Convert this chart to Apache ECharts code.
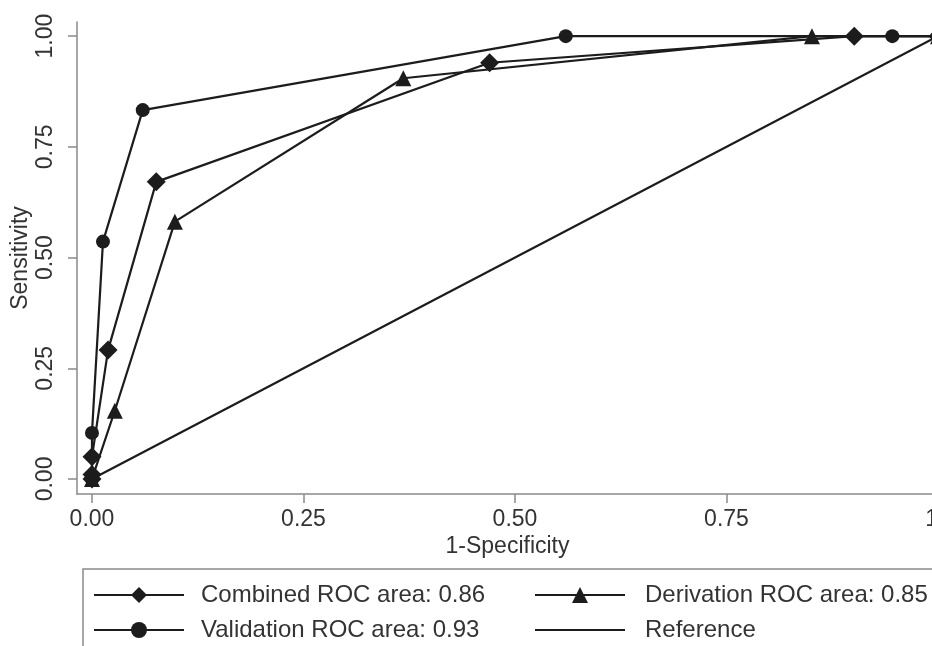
<!DOCTYPE html>
<html>
<head>
<meta charset="utf-8">
<script src="https://cdn.jsdelivr.net/npm/echarts@6/dist/echarts.min.js"></script>
<style>
  body { margin: 0; background: #fff; }
  #roc { width: 932px; height: 646px; }
</style>
</head>
<body>
<div id="roc"></div>
<script>
// points, [1-specificity, sensitivity]
var combined = [[0, 0], [0, 0.01], [0, 0.05], [0.019, 0.291], [0.076, 0.671], [0.47, 0.94], [0.901, 1], [1, 1]];
var derivation = [[0, 0], [0.027, 0.154], [0.098, 0.581], [0.368, 0.905], [0.851, 1], [1, 1]];
var validation = [[0, 0], [0, 0.104], [0.013, 0.536], [0.06, 0.833], [0.56, 1], [0.946, 1], [1, 1]];
var reference = [[0, 0], [1, 1]];

var tickValues = [0, 0.25, 0.5, 0.75, 1];
var seriesNames = ["Combined ROC area: 0.86", "Derivation ROC area: 0.85", "Validation ROC area: 0.93", "Reference"];

var lineColor = "#1c1c1c";
var axisColor = "#8a8a8a";
var textColor = "#333";
var font = "Liberation Sans, Arial, sans-serif";

var mkSeries = function (name, data, symbol, size) {
  return {
    name: name,
    type: "line",
    data: data,
    symbol: symbol,
    symbolSize: size,
    showSymbol: symbol !== "none",
    animation: false,
    lineStyle: { color: lineColor, width: 2.2 },
    itemStyle: { color: lineColor, borderWidth: 0 },
    z: 3
  };
};

var legendText = function (pad) {
  return { fontSize: 24, lineHeight: 24, color: textColor, fontFamily: font, padding: [0, 0, 0, pad] };
};

var option = {
  backgroundColor: "#fff",
  textStyle: { fontFamily: font },
  grid: { left: 77, right: -6, top: 22, bottom: 152, outerBoundsMode: "none", containLabel: false },
  xAxis: {
    type: "value",
    min: -0.0177,
    max: 1,
    name: "1-Specificity",
    nameLocation: "middle",
    nameGap: 41,
    nameMoveOverlap: false,
    nameTextStyle: { fontSize: 23, color: textColor, fontFamily: font },
    axisLine: { onZero: false, lineStyle: { color: axisColor, width: 1.5 } },
    axisTick: { customValues: tickValues, length: 9, lineStyle: { color: axisColor, width: 1.5 } },
    axisLabel: {
      customValues: tickValues,
      formatter: function (v) { return v === 1 ? "1" : v.toFixed(2); },
      alignMaxLabel: "right",
      fontSize: 23, color: textColor, margin: 14, fontFamily: font
    },
    splitLine: { show: false }
  },
  yAxis: {
    type: "value",
    min: -0.034,
    max: 1.032,
    name: "Sensitivity",
    nameLocation: "middle",
    nameGap: 45,
    nameMoveOverlap: false,
    nameTextStyle: { fontSize: 23, color: textColor, fontFamily: font },
    axisLine: { show: true, onZero: false, lineStyle: { color: axisColor, width: 1.5 } },
    axisTick: { show: true, customValues: tickValues, length: 9, lineStyle: { color: axisColor, width: 1.5 } },
    axisLabel: {
      customValues: tickValues,
      formatter: function (v) { return v.toFixed(2); },
      rotate: 90, fontSize: 23, color: textColor, margin: 20, fontFamily: font
    },
    splitLine: { show: false }
  },
  legend: [
    {
      data: [seriesNames[0], seriesNames[2]],
      orient: "vertical",
      left: 93,
      top: 583,
      padding: 0,
      itemWidth: 90,
      itemHeight: 20,
      itemGap: 11,
      textStyle: legendText(12)
    },
    {
      data: [seriesNames[1], { name: seriesNames[3], itemStyle: { opacity: 0 } }],
      orient: "vertical",
      left: 534,
      top: 583,
      padding: 0,
      itemWidth: 90,
      itemHeight: 20,
      itemGap: 11,
      textStyle: legendText(15)
    }
  ],
  graphic: [
    {
      type: "rect",
      shape: { x: 83, y: 569, width: 900, height: 120 },
      style: { fill: "none", stroke: axisColor, lineWidth: 1.5 },
      silent: true
    }
  ],
  series: [
    mkSeries(seriesNames[0], combined, "diamond", 19),
    mkSeries(seriesNames[1], derivation, "triangle", 16),
    mkSeries(seriesNames[2], validation, "circle", 14),
    mkSeries(seriesNames[3], reference, "none", 0)
  ]
};

var chart = echarts.init(document.getElementById("roc"));
chart.setOption(option);
</script>
</body>
</html>
